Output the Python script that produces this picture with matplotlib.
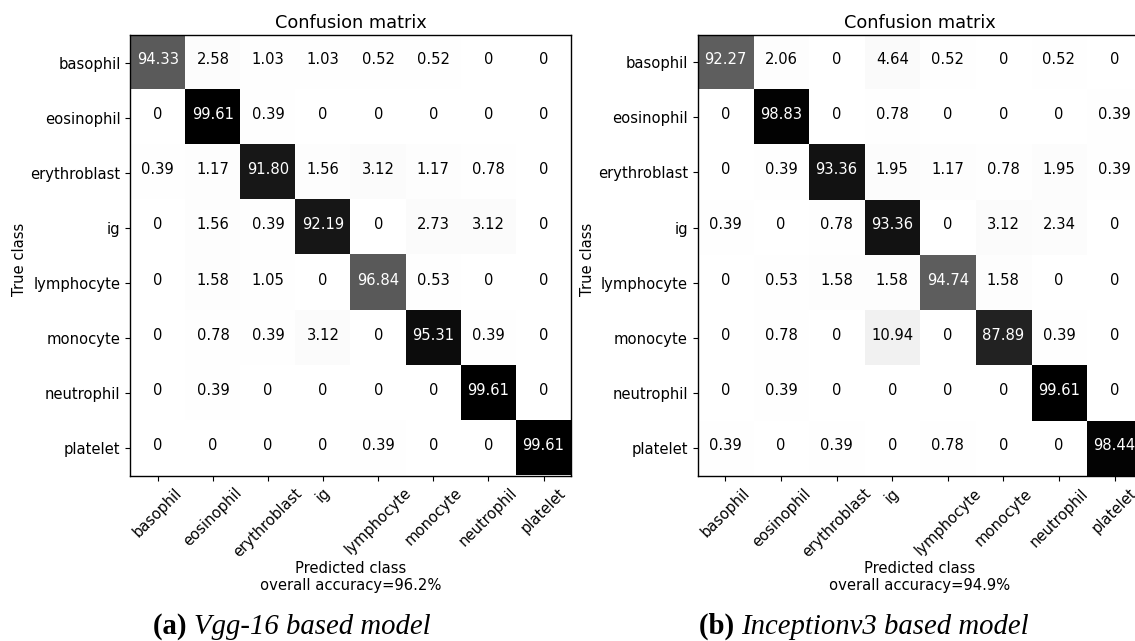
import numpy as np
import matplotlib
matplotlib.use("Agg")
import matplotlib.pyplot as plt

classes = ['basophil', 'eosinophil', 'erythroblast', 'ig',
           'lymphocyte', 'monocyte', 'neutrophil', 'platelet']
# number of test samples per true class (colour intensity follows counts)
row_totals = [194, 256, 256, 256, 190, 256, 256, 256]

vgg_pct = [
    [94.33, 2.58, 1.03, 1.03, 0.52, 0.52, 0, 0],
    [0, 99.61, 0.39, 0, 0, 0, 0, 0],
    [0.39, 1.17, 91.80, 1.56, 3.12, 1.17, 0.78, 0],
    [0, 1.56, 0.39, 92.19, 0, 2.73, 3.12, 0],
    [0, 1.58, 1.05, 0, 96.84, 0.53, 0, 0],
    [0, 0.78, 0.39, 3.12, 0, 95.31, 0.39, 0],
    [0, 0.39, 0, 0, 0, 0, 99.61, 0],
    [0, 0, 0, 0, 0.39, 0, 0, 99.61],
]
inc_pct = [
    [92.27, 2.06, 0, 4.64, 0.52, 0, 0.52, 0],
    [0, 98.83, 0, 0.78, 0, 0, 0, 0.39],
    [0, 0.39, 93.36, 1.95, 1.17, 0.78, 1.95, 0.39],
    [0.39, 0, 0.78, 93.36, 0, 3.12, 2.34, 0],
    [0, 0.53, 1.58, 1.58, 94.74, 1.58, 0, 0],
    [0, 0.78, 0, 10.94, 0, 87.89, 0.39, 0],
    [0, 0.39, 0, 0, 0, 0, 99.61, 0],
    [0.39, 0, 0.39, 0, 0.78, 0, 0, 98.44],
]
accuracies = ['96.2%', '94.9%']
caption_tags = ['(a)', '(b)']
caption_texts = ['Vgg-16 based model', 'Inceptionv3 based model']

W, H = 1135, 641
fig = plt.figure(figsize=(W / 100, H / 100), dpi=100)
plt.rcParams['font.family'] = ['DejaVu Sans']
fs = 10.6

# axes boxes in pixels: left, top, width, height; y-label x centre
boxes = [(130.3, 35.0, 440.8, 440.5), (697.7, 34.5, 444.6, 441.5)]
ylabel_x = [20, 588]

for k, (pct, box) in enumerate(zip([vgg_pct, inc_pct], boxes)):
    l, t, w, h = box
    ax = fig.add_axes([l / W, 1 - (t + h) / H, w / W, h / H])
    p = np.array(pct, dtype=float)
    counts = p * np.array(row_totals)[:, None] / 100.0
    vmax = counts.max()
    ax.imshow(counts, cmap=plt.cm.Greys, vmin=0, vmax=vmax,
              interpolation='nearest', aspect='auto')
    thresh = vmax / 2.0
    n = len(classes)
    for i in range(n):
        for j in range(n):
            v = p[i, j]
            s = '0' if v == 0 else f'{v:.2f}'
            ax.text(j, i - 0.05, s, ha='center', va='center', fontsize=fs,
                    color='white' if counts[i, j] > thresh else 'black')
    ax.set_xticks(range(n))
    ax.set_xticklabels(classes, rotation=45, fontsize=fs)
    ax.set_yticks(range(n))
    ax.set_yticklabels(classes, fontsize=fs)
    ax.set_title('Confusion matrix', fontsize=12.8, pad=5)
    ax.set_ylabel('True class', fontsize=fs)
    ax.yaxis.set_label_coords((ylabel_x[k] + 7 - l) / w, 0.49)
    ax.set_xlabel('Predicted class\noverall accuracy=' + accuracies[k],
                  fontsize=fs, linespacing=1.15)
    ax.xaxis.set_label_coords(0.5, -(561 - (t + h)) / h)
    for sp in ax.spines.values():
        sp.set_color('black')
        sp.set_linewidth(1.0)

# captions: bold tag + italic text (serif)
centers = [291.5, 864]
cap_y = 1 - 634 / H
fig.canvas.draw()
r = fig.canvas.get_renderer()
for tag, txt, cx in zip(caption_tags, caption_texts, centers):
    t1 = fig.text(0, cap_y, tag + ' ', fontsize=20.7, fontweight='bold',
                  family='Liberation Serif', va='baseline', ha='left')
    t2 = fig.text(0, cap_y, txt, fontsize=20.7, fontstyle='italic',
                  family='Liberation Serif', va='baseline', ha='left')
    w1 = t1.get_window_extent(r).width
    w2 = t2.get_window_extent(r).width
    x0 = cx - (w1 + w2) / 2
    t1.set_x(x0 / W)
    t2.set_x((x0 + w1) / W)

fig.savefig('out.png', dpi=100)
